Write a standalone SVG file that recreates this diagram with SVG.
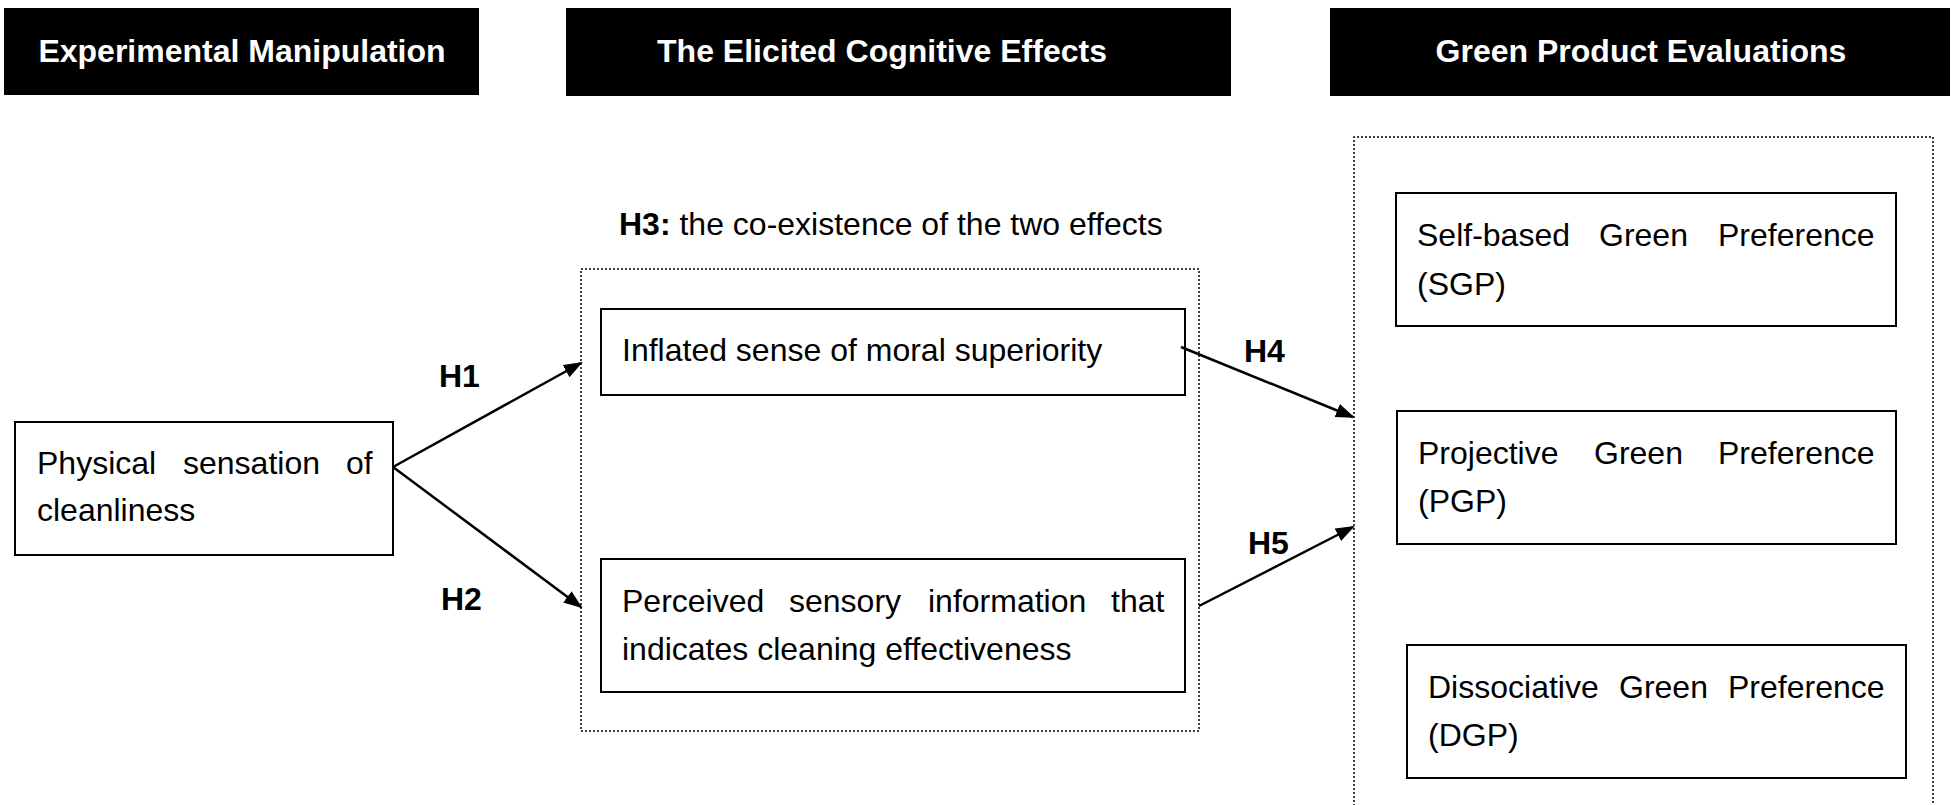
<svg xmlns="http://www.w3.org/2000/svg" width="1952" height="805" viewBox="0 0 1952 805">
<defs>
<style>
.hdr{fill:#000}
.hdrt{fill:#fff;font-family:"Liberation Sans",Arial,sans-serif;font-weight:bold;font-size:32px;text-anchor:middle}
.box{fill:#fff;stroke:#000;stroke-width:2}
.dot{fill:none;stroke:#000;stroke-width:1.5;stroke-dasharray:2 2}
.t{fill:#000;font-family:"Liberation Sans",Arial,sans-serif;font-size:32px}
.b{font-weight:bold}
.conn{stroke:#000;stroke-width:2.5;fill:none}
</style>
<marker id="ah" markerUnits="userSpaceOnUse" markerWidth="20" markerHeight="16" refX="17" refY="7" orient="auto">
<path d="M0,0 L19,7 L0,14 z" fill="#000"/>
</marker>
</defs>
<rect width="1952" height="805" fill="#fff"/>

<g id="header-manipulation">
<rect class="hdr" x="4" y="8" width="475" height="87"/>
<text class="hdrt" x="242" y="62">Experimental Manipulation</text>
</g>
<g id="header-effects">
<rect class="hdr" x="566" y="8" width="665" height="88"/>
<text class="hdrt" x="882" y="62">The Elicited Cognitive Effects</text>
</g>
<g id="header-evaluations">
<rect class="hdr" x="1330" y="8" width="620" height="88"/>
<text class="hdrt" x="1641" y="62">Green Product Evaluations</text>
</g>

<g id="group-effects">
<rect class="dot" x="581" y="269" width="618" height="462"/>
<text class="t" x="619" y="235"><tspan class="b">H3:</tspan> the co-existence of the two effects</text>
</g>
<g id="group-evaluations">
<path class="dot" d="M1354,810 V137 H1933 V810"/>
</g>

<g id="node-physical">
<rect class="box" x="15" y="422" width="378" height="133"/>
<text class="t"><tspan x="37" y="474">Physical</tspan><tspan x="183" y="474">sensation</tspan><tspan x="346" y="474">of</tspan><tspan x="37" y="521">cleanliness</tspan></text>
</g>
<g id="node-moral">
<rect class="box" x="601" y="309" width="584" height="86"/>
<text class="t" x="622" y="361">Inflated sense of moral superiority</text>
</g>
<g id="node-sensory">
<rect class="box" x="601" y="559" width="584" height="133"/>
<text class="t"><tspan x="622" y="612">Perceived</tspan><tspan x="789" y="612">sensory</tspan><tspan x="928" y="612">information</tspan><tspan x="1111" y="612">that</tspan><tspan x="622" y="660">indicates cleaning effectiveness</tspan></text>
</g>
<g id="node-sgp">
<rect class="box" x="1396" y="193" width="500" height="133"/>
<text class="t"><tspan x="1417" y="246">Self-based</tspan><tspan x="1599" y="246">Green</tspan><tspan x="1718" y="246">Preference</tspan><tspan x="1417" y="295">(SGP)</tspan></text>
</g>
<g id="node-pgp">
<rect class="box" x="1397" y="411" width="499" height="133"/>
<text class="t"><tspan x="1418" y="464">Projective</tspan><tspan x="1594" y="464">Green</tspan><tspan x="1718" y="464">Preference</tspan><tspan x="1418" y="512">(PGP)</tspan></text>
</g>
<g id="node-dgp">
<rect class="box" x="1407" y="645" width="499" height="133"/>
<text class="t"><tspan x="1428" y="698">Dissociative</tspan><tspan x="1619" y="698">Green</tspan><tspan x="1728" y="698">Preference</tspan><tspan x="1428" y="746">(DGP)</tspan></text>
</g>

<g id="connectors">
<line class="conn" x1="393" y1="467" x2="581" y2="363" marker-end="url(#ah)"/>
<line class="conn" x1="393" y1="467" x2="581" y2="607" marker-end="url(#ah)"/>
<line class="conn" x1="1181" y1="347" x2="1353" y2="417" marker-end="url(#ah)"/>
<line class="conn" x1="1199" y1="606" x2="1353" y2="527" marker-end="url(#ah)"/>
<text class="t b" x="439" y="387">H1</text>
<text class="t b" x="441" y="610">H2</text>
<text class="t b" x="1244" y="362">H4</text>
<text class="t b" x="1248" y="554">H5</text>
</g>
</svg>
